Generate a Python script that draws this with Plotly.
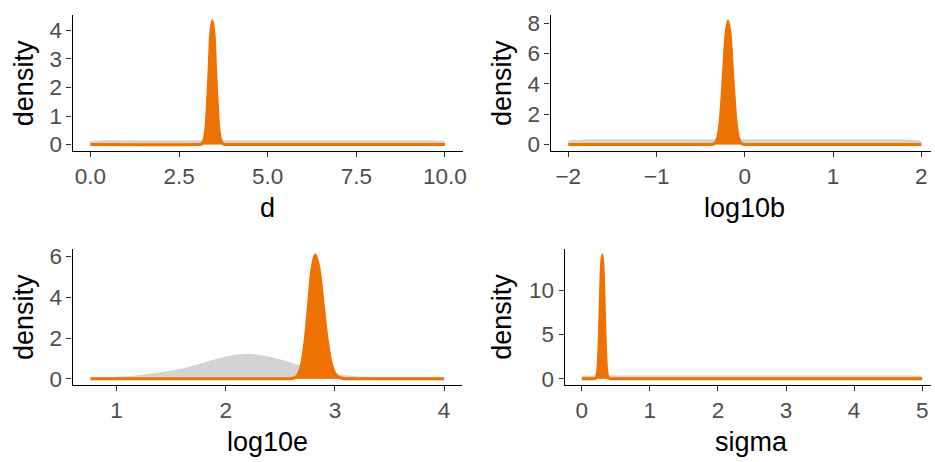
import plotly.graph_objects as go

# ---------------- data ----------------
# panel "d"
d_x_prior = [0.0, 0.1, 0.3, 0.6, 5.0, 9.4, 9.7, 9.9, 10.0]
d_y_prior = [0.05, 0.08, 0.095, 0.1, 0.1, 0.1, 0.095, 0.08, 0.05]
d_x_post = [0.0, 3.00, 3.12, 3.16, 3.21, 3.26, 3.30, 3.35, 3.39, 3.44, 3.49,
            3.53, 3.58, 3.62, 3.67, 3.72, 3.76, 3.90, 10.0]
d_y_post = [0, 0, 0.01, 0.05, 0.19, 0.59, 1.41, 2.63, 3.83, 4.34, 3.83,
            2.63, 1.41, 0.59, 0.19, 0.05, 0.01, 0, 0]

# panel "log10b"
b_x_prior = [-2.0, -1.95, -1.85, -1.7, 0.0, 1.7, 1.85, 1.95, 2.0]
b_y_prior = [0.13, 0.20, 0.24, 0.25, 0.25, 0.25, 0.24, 0.20, 0.13]
b_x_post = [-2.0, -0.45, -0.362, -0.337, -0.313, -0.288, -0.264, -0.239, -0.215,
            -0.19, -0.165, -0.141, -0.116, -0.092, -0.067, -0.043, -0.018, 0.07, 2.0]
b_y_post = [0, 0, 0.02, 0.09, 0.36, 1.10, 2.64, 4.93, 7.17, 8.13, 7.17,
            4.93, 2.64, 1.10, 0.36, 0.09, 0.02, 0, 0]

# panel "log10e"
e_x_prior = [0.763, 1.0, 1.2, 1.4, 1.6, 1.8, 2.0, 2.2, 2.4, 2.6, 2.8, 3.0,
             3.2, 3.4, 3.6, 4.0]
e_y_prior = [0.005, 0.03, 0.10, 0.25, 0.42, 0.72, 1.01, 1.15, 1.01, 0.72,
             0.38, 0.16, 0.05, 0.013, 0.003, 0]
e_x_post = [0.763, 2.50, 2.61, 2.64, 2.67, 2.70, 2.73, 2.76, 2.79, 2.82, 2.856,
            2.892, 2.928, 2.964, 3.0, 3.036, 3.072, 3.20, 4.0]
e_y_post = [0, 0, 0.01, 0.07, 0.27, 0.82, 1.98, 3.69, 5.37, 6.09, 5.37,
            3.69, 1.98, 0.82, 0.27, 0.07, 0.01, 0, 0]

# panel "sigma"
s_x_prior = [0.0, 0.05, 0.15, 0.3, 2.5, 4.7, 4.85, 4.95, 5.0]
s_y_prior = [0.10, 0.16, 0.19, 0.2, 0.2, 0.2, 0.19, 0.16, 0.10]
s_x_post = [0.0, 0.15, 0.20, 0.214, 0.229, 0.243, 0.257, 0.271, 0.286, 0.30,
            0.314, 0.329, 0.343, 0.357, 0.371, 0.386, 0.40, 0.48, 5.0]
s_y_post = [0, 0, 0.03, 0.16, 0.61, 1.89, 4.54, 8.48, 12.34, 13.98, 12.34,
            8.48, 4.54, 1.89, 0.61, 0.16, 0.03, 0, 0]

params = ["d", "log10b", "log10e", "sigma"]

x_ticks = {
    "d": ([0, 2.5, 5, 7.5, 10], ["0.0", "2.5", "5.0", "7.5", "10.0"]),
    "log10b": ([-2, -1, 0, 1, 2], ["\u22122", "\u22121", "0", "1", "2"]),
    "log10e": ([1, 2, 3, 4], ["1", "2", "3", "4"]),
    "sigma": ([0, 1, 2, 3, 4, 5], ["0", "1", "2", "3", "4", "5"]),
}
y_ticks = {
    "d": [0, 1, 2, 3, 4],
    "log10b": [0, 2, 4, 6, 8],
    "log10e": [0, 2, 4, 6],
    "sigma": [0, 5, 10],
}

# ---------------- layout ----------------
W, H = 935, 462
PRIOR_COL = "#D3D3D3"
POST_COL = "#EE7202"
TICK_FONT = dict(family="Liberation Sans, Arial, sans-serif", size=22.5, color="#4D4D4D")
TITLE_FONT = dict(family="Liberation Sans, Arial, sans-serif", size=27, color="#000000")

# pixel boxes (left, right, top, bottom) of each panel
boxes = {
    "d": (73, 464.6, 10.7, 150),
    "log10b": (553, 935, 10.7, 150),
    "log10e": (73, 463.8, 250.7, 390),
    "sigma": (567.2, 935, 250.7, 390),
}
x_ranges = {
    "d": [-0.5, 10.5],
    "log10b": [-2.2, 2.109],
    "log10e": [0.6, 4.162],
    "sigma": [-0.25, 5.13],
}
y_ranges = {
    "d": [-0.229, 4.526],
    "log10b": [-0.43, 8.5],
    "log10e": [-0.30, 6.36],
    "sigma": [-0.69, 14.6],
}
ytitle_x = {"d": 24, "log10b": 504, "log10e": 24, "sigma": 504}
xtitle_cx = {"d": 268.8, "log10b": 748, "log10e": 268.4, "sigma": 755}

series = {
    "d": (d_x_prior, d_y_prior, d_x_post, d_y_post),
    "log10b": (b_x_prior, b_y_prior, b_x_post, b_y_post),
    "log10e": (e_x_prior, e_y_prior, e_x_post, e_y_post),
    "sigma": (s_x_prior, s_y_prior, s_x_post, s_y_post),
}

fig = go.Figure()
layout = dict(
    width=W, height=H,
    margin=dict(l=0, r=0, t=0, b=0),
    paper_bgcolor="white", plot_bgcolor="white",
    showlegend=False,
)
annotations = []

for i, p in enumerate(params, start=1):
    xa = "x" if i == 1 else f"x{i}"
    ya = "y" if i == 1 else f"y{i}"
    xp, yp, xq, yq = series[p]
    fig.add_trace(go.Scatter(
        x=xp, y=yp, xaxis=xa, yaxis=ya, mode="lines",
        line=dict(color=PRIOR_COL, width=3, shape="spline", smoothing=0.8),
        fill="tozeroy", fillcolor=PRIOR_COL, hoverinfo="skip"))
    fig.add_trace(go.Scatter(
        x=xq, y=yq, xaxis=xa, yaxis=ya, mode="lines",
        line=dict(color=POST_COL, width=3, shape="spline", smoothing=0.8),
        fill="tozeroy", fillcolor=POST_COL, hoverinfo="skip"))

    l, r, t, b = boxes[p]
    xkey = "xaxis" if i == 1 else f"xaxis{i}"
    ykey = "yaxis" if i == 1 else f"yaxis{i}"
    tv, tt = x_ticks[p]
    layout[xkey] = dict(
        domain=[l / W, min(r / W, 1.0)], anchor=ya, range=x_ranges[p],
        tickmode="array", tickvals=tv, ticktext=tt,
        showline=True, linecolor="black", linewidth=1.4,
        ticks="outside", ticklen=5, tickwidth=1.4, tickcolor="#333333",
        showgrid=False, zeroline=False, tickfont=TICK_FONT, fixedrange=True)
    layout[ykey] = dict(
        domain=[1 - b / H, 1 - t / H], anchor=xa, range=y_ranges[p],
        tickmode="array", tickvals=y_ticks[p],
        showline=True, linecolor="black", linewidth=1.4,
        ticks="outside", ticklen=5, tickwidth=1.4, tickcolor="#333333",
        showgrid=False, zeroline=False, tickfont=TICK_FONT, fixedrange=True)

    # axis titles
    annotations.append(dict(
        text="density", xref="paper", yref="paper",
        x=ytitle_x[p] / W, y=1 - ((t + b) / 2) / H,
        xanchor="center", yanchor="middle", textangle=-90,
        showarrow=False, font=TITLE_FONT))
    annotations.append(dict(
        text=p, xref="paper", yref="paper",
        x=xtitle_cx[p] / W,
        y=1 - (b + 41) / H,
        xanchor="center", yanchor="top",
        showarrow=False, font=TITLE_FONT))

layout["annotations"] = annotations
fig.update_layout(**layout)
fig.write_html("out.html")
